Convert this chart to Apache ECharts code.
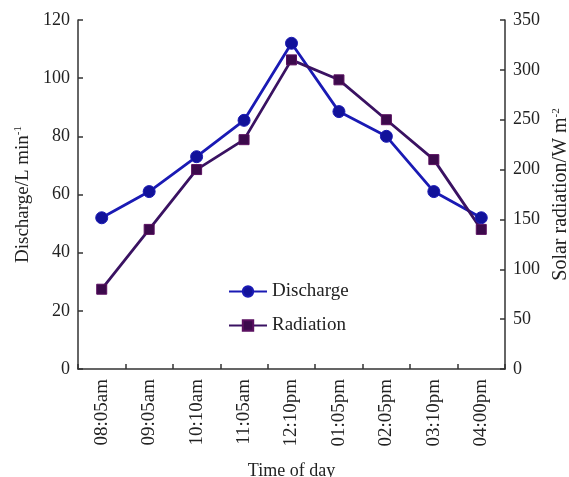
<!DOCTYPE html>
<html>
<head>
<meta charset="utf-8">
<script src="https://cdn.jsdelivr.net/npm/echarts@6/dist/echarts.min.js"></script>
<style>
  html, body { margin: 0; padding: 0; background: #fff; }
  #main { width: 569px; height: 477px; }
</style>
</head>
<body>
<div id="main"></div>
<script>
  // data
  const times = ['08:05am', '09:05am', '10:10am', '11:05am', '12:10pm', '01:05pm', '02:05pm', '03:10pm', '04:00pm']
  const discharge = [52, 61, 73, 85.5, 112, 88.5, 80, 61, 52]
  const radiation = [80, 140, 200, 230, 310, 290, 250, 210, 140]

  const font = 'Liberation Serif'
  const ink = '#222'
  const axisLine = { show: true, lineStyle: { color: '#333', width: 1.5 } }
  const axisTick = { show: true, inside: true, length: 5, lineStyle: { color: '#333', width: 1.5 } }
  const supRich = {
    sup: { fontFamily: font, fontSize: 11, color: ink, padding: [0, 0, 9, 0] }
  }

  const chart = echarts.init(document.getElementById('main'))
  const option = {
    backgroundColor: '#fff',
    animation: false,
    textStyle: { fontFamily: font },
    grid: { left: 78, right: 64, top: 20, bottom: 108, containLabel: false, outerBoundsMode: 'none' },
    legend: {
      orient: 'vertical',
      left: 223,
      top: 277,
      itemWidth: 38,
      itemHeight: 13,
      itemGap: 15,
      textStyle: { fontFamily: font, fontSize: 19, color: ink },
      data: ['Discharge', 'Radiation']
    },
    xAxis: {
      type: 'category',
      data: times,
      boundaryGap: true,
      name: 'Time of day',
      nameLocation: 'middle',
      nameGap: 93,
      nameTextStyle: { fontFamily: font, fontSize: 18, color: ink },
      axisLine: axisLine,
      axisTick: axisTick,
      axisLabel: { rotate: 90, fontFamily: font, fontSize: 19, color: ink, margin: 10 },
      splitLine: { show: false }
    },
    yAxis: [{
      type: 'value',
      min: 0, max: 120, interval: 20,
      name: 'Discharge/L min{sup|-1}',
      nameLocation: 'middle',
      nameRotate: 90,
      nameGap: 42,
      nameTextStyle: { fontFamily: font, fontSize: 19, color: ink, rich: supRich },
      axisLine: axisLine,
      axisTick: axisTick,
      axisLabel: { fontFamily: font, fontSize: 18, color: ink, margin: 8 },
      splitLine: { show: false }
    }, {
      type: 'value',
      position: 'right',
      min: 0, max: 350, interval: 50,
      name: 'Solar radiation/W m{sup|-2}',
      nameLocation: 'middle',
      nameRotate: 90,
      nameGap: 46,
      nameTextStyle: { fontFamily: font, fontSize: 20, color: ink, rich: supRich },
      axisLine: axisLine,
      axisTick: axisTick,
      axisLabel: { fontFamily: font, fontSize: 18, color: ink, margin: 8 },
      splitLine: { show: false }
    }],
    series: [{
      name: 'Discharge',
      type: 'line',
      yAxisIndex: 0,
      data: discharge,
      symbol: 'circle',
      symbolSize: 12,
      lineStyle: { color: '#1a1ab4', width: 2.8 },
      itemStyle: { color: '#12129a', borderColor: '#1a1ab4', borderWidth: 1 }
    }, {
      name: 'Radiation',
      type: 'line',
      yAxisIndex: 1,
      data: radiation,
      symbol: 'rect',
      symbolSize: 10,
      lineStyle: { color: '#3a1262', width: 2.8 },
      itemStyle: { color: '#3c0a4c', borderColor: '#5a1060', borderWidth: 1 }
    }]
  }
  chart.setOption(option)
</script>
</body>
</html>
